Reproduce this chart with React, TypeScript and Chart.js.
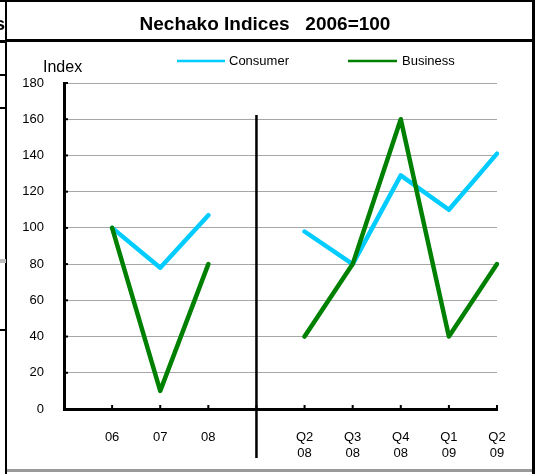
import React, { useEffect, useRef } from "react";
import { Chart, registerables } from "chart.js";

Chart.register(...registerables);

const categories: (string | string[])[] = [
  "",
  "06",
  "07",
  "08",
  "",
  ["Q2", "08"],
  ["Q3", "08"],
  ["Q4", "08"],
  ["Q1", "09"],
  ["Q2", "09"],
];
const consumer: (number | null)[] = [null, 100, 78, 107, null, 98, 80, 129, 110, 141];
const business: (number | null)[] = [null, 100, 10, 80, null, 40, 80, 160, 40, 80];
const seriesNames = ["Consumer", "Business"];
const seriesColors = ["#00CCFF", "#008000"];
const titleText = "Nechako Indices   2006=100";
const yAxisTitle = "Index";
const dividerIndex = 4;

const FONT = "'Liberation Sans', Arial, sans-serif";

const decorPlugin = {
  id: "decor",
  beforeDraw(chart: any) {
    const ctx = chart.ctx;
    ctx.save();
    ctx.fillStyle = "#ffffff";
    ctx.fillRect(0, 0, chart.width, chart.height);
    ctx.restore();
  },
  afterDraw(chart: any) {
    const ctx = chart.ctx;
    const x = chart.scales.x;
    const y = chart.scales.y;
    const area = chart.chartArea;
    ctx.save();
    // frame
    ctx.fillStyle = "#000";
    ctx.fillRect(0, 0, 535, 2);
    ctx.fillRect(5, 0, 2, 474);
    ctx.fillRect(6, 39, 529, 3);
    ctx.fillRect(532, 0, 3, 474);
    ctx.fillStyle = "#9a9a9a";
    ctx.fillRect(7, 469, 525, 3);
    // left artifacts
    ctx.fillStyle = "#000";
    ctx.fillRect(0, 40, 6, 3);
    ctx.fillRect(0, 74, 6, 2);
    ctx.fillRect(0, 107, 6, 2);
    ctx.fillRect(0, 329, 6, 2);
    ctx.fillStyle = "#bdbdbd";
    ctx.fillRect(0, 259, 6, 4);
    ctx.fillStyle = "#000";
    ctx.font = "bold 19px " + FONT;
    ctx.textAlign = "right";
    ctx.textBaseline = "alphabetic";
    ctx.fillText("s", 5, 30);
    // title
    ctx.textAlign = "center";
    ctx.fillText(titleText, 265, 30);
    // y axis title
    ctx.font = "16px " + FONT;
    ctx.textAlign = "left";
    ctx.fillText(yAxisTitle, 43, 72);
    // legend
    const legendPos = [
      [177, 225, 229],
      [348, 397, 402],
    ];
    ctx.font = "13px " + FONT;
    ctx.textBaseline = "middle";
    seriesNames.forEach((n, i) => {
      const [a, b, t] = legendPos[i];
      ctx.strokeStyle = seriesColors[i];
      ctx.lineWidth = 2.5;
      ctx.beginPath();
      ctx.moveTo(a, 61);
      ctx.lineTo(b, 61);
      ctx.stroke();
      ctx.fillStyle = "#000";
      ctx.fillText(n, t, 61);
    });
    // inner tick marks on x axis
    ctx.fillStyle = "#000";
    for (let i = 0; i < categories.length; i++) {
      const px = x.getPixelForValue(i);
      ctx.fillRect(px - 1, area.bottom - 4, 2, 4);
    }
    // inner tick marks on y axis
    y.ticks.forEach((t: any) => {
      const py = y.getPixelForValue(t.value);
      ctx.fillRect(area.left, py - 1, 4, 2);
    });
    // divider
    const dx = x.getPixelForValue(dividerIndex);
    ctx.fillRect(dx - 1.25, 115, 2.5, 458 - 115);
    ctx.restore();
  },
};

export default function App() {
  const ref = useRef<HTMLCanvasElement | null>(null);
  useEffect(() => {
    if (!ref.current) return;
    const chart = new Chart(ref.current, {
      type: "line",
      data: {
        labels: categories,
        datasets: [
          {
            label: seriesNames[0],
            data: consumer,
            borderColor: seriesColors[0],
            backgroundColor: seriesColors[0],
            borderWidth: 4.5,
            pointRadius: 0,
            tension: 0,
            spanGaps: false,
            borderCapStyle: "round",
            borderJoinStyle: "round",
            order: 1,
          },
          {
            label: seriesNames[1],
            data: business,
            borderColor: seriesColors[1],
            backgroundColor: seriesColors[1],
            borderWidth: 4.5,
            pointRadius: 0,
            tension: 0,
            spanGaps: false,
            borderCapStyle: "round",
            borderJoinStyle: "round",
            order: 0,
          },
        ],
      },
      options: {
        animation: false,
        responsive: false,
        devicePixelRatio: 1,
        layout: { padding: { top: 83, right: 38, left: 0, bottom: 0 } },
        plugins: {
          legend: { display: false },
          title: { display: false },
          tooltip: { enabled: false },
        },
        scales: {
          x: {
            type: "category",
            offset: false,
            afterFit: (s: any) => {
              s.height = 65;
            },
            grid: { drawOnChartArea: false, drawTicks: false, display: true },
            border: { display: true, color: "#000", width: 3 },
            ticks: {
              autoSkip: false,
              maxRotation: 0,
              minRotation: 0,
              padding: 20,
              color: "#000",
              font: { family: FONT, size: 13, lineHeight: 1.23 },
            },
          },
          y: {
            min: 0,
            max: 180,
            afterFit: (s: any) => {
              s.width = 64;
            },
            grid: {
              drawTicks: false,
              color: (c: any) => (c.tick && c.tick.value === 0 ? "rgba(0,0,0,0)" : "#a6a6a6"),
              lineWidth: 1,
            },
            border: { display: true, color: "#000", width: 3 },
            ticks: {
              stepSize: 20,
              padding: 20,
              color: "#000",
              font: { family: FONT, size: 13 },
            },
          },
        },
      },
      plugins: [decorPlugin],
    });
    return () => chart.destroy();
  }, []);
  return (
    <div style={{ position: "fixed", left: 0, top: 0, width: 535, height: 474 }}>
      <canvas ref={ref} width={535} height={474} style={{ width: 535, height: 474, display: "block" }} />
    </div>
  );
}
